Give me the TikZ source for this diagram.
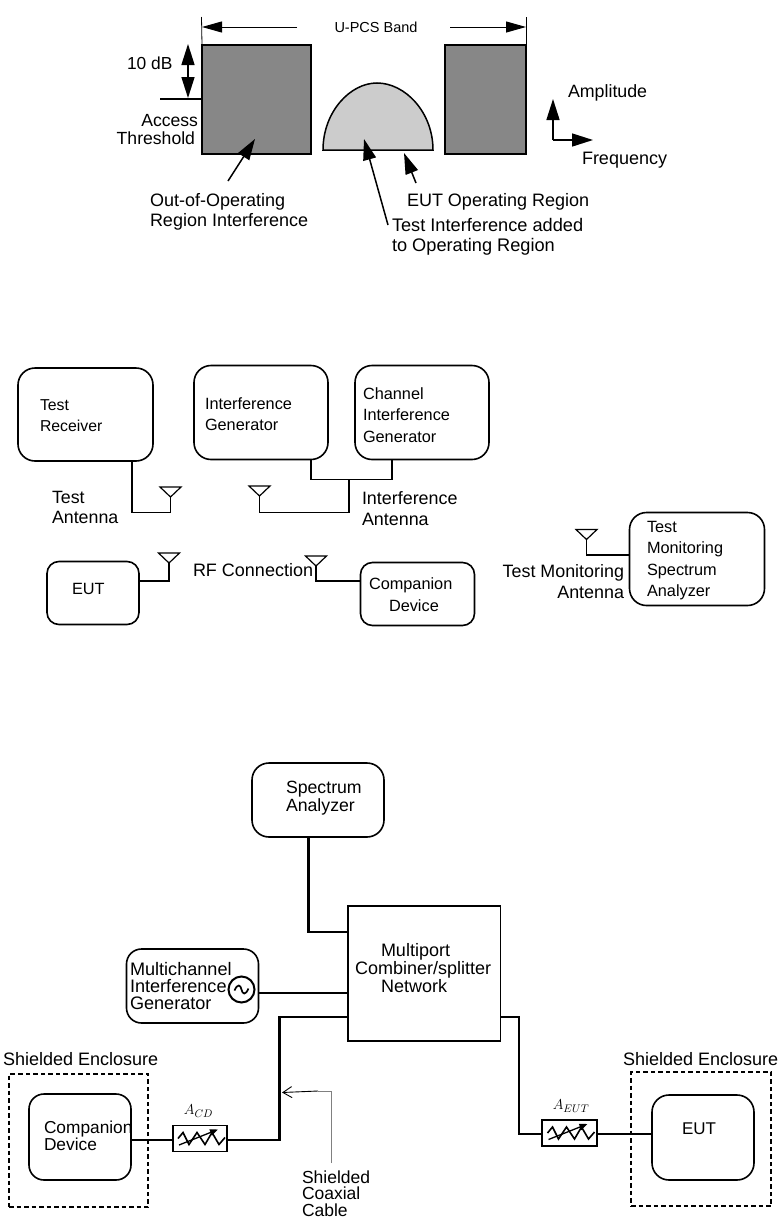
\documentclass[tikz,border=0pt]{standalone}
\usepackage{fontspec}
\setmainfont{Liberation Sans}
\usetikzlibrary{arrows.meta}
\newcommand{\fs}[1]{\fontsize{#1}{#1}\selectfont}
\tikzset{
  every node/.style={outer sep=0pt},
  lbl/.style={inner sep=0pt,anchor=west,align=left},
  lblA/.style={lbl,font=\fontsize{18}{20}\selectfont},
  lblB/.style={lbl,font=\fontsize{16.3}{21.5}\selectfont},
  lblC/.style={lbl,font=\fontsize{17.8}{17}\selectfont},
  rbox/.style={draw,line width=1.6pt,rounded corners=17pt,inner sep=0pt,anchor=north west},
  sbox/.style={rbox,rounded corners=12pt},
  wire/.style={line width=1.5pt},
  thick wire/.style={line width=2.6pt},
  farrow/.style={line width=1.5pt,-{Triangle[length=21pt,width=13pt]}},
  band/.style={line width=1pt,-{Triangle[length=20pt,width=11pt]}},
  encl/.style={draw,line width=1.6pt,dash pattern=on 4.5pt off 3pt,inner sep=0pt,anchor=north west},
  atten/.style={draw,line width=1.7pt,inner sep=0pt,anchor=north west,minimum width=54pt,minimum height=26pt},
}
\newcommand{\antenna}[3]{\coordinate (#1) at (#2,#3);
  \draw[line width=1.2pt] (#1) -- ++(-10.5,-10) -- ++(21,0) -- cycle;}
\newcommand{\resistor}[1]{%
  \draw[line width=1.6pt,shift={(#1.center)}] (-22,0) -- (-17,-6) -- (-11,6) -- (-3,-6) -- (5,6) -- (12,-6) -- (19,6) -- (25,-1);
  \draw[line width=1.3pt,-{Triangle[length=8pt,width=6.5pt]},shift={(#1.center)}] (-21,6.5) -- (18,-9);}
\begin{document}
\begin{tikzpicture}[x=1pt,y=-1pt]
\useasboundingbox (0,0) rectangle (782,1226);
% ---- top spectrum
\node[draw,line width=1.6pt,fill=black!47,inner sep=0pt,anchor=north west,minimum width=109pt,minimum height=109pt] (oobl) at (202,45) {};
\node[draw,line width=1.6pt,fill=black!47,inner sep=0pt,anchor=north west,minimum width=81pt,minimum height=109pt] (oobr) at (445,45) {};
\draw[line width=1.5pt,fill=black!20] (323,150) .. controls (323,112) and (350,83) .. (377,83) .. controls (405,83) and (433,112) .. (433,150) -- cycle;
\coordinate (bl) at (201.5,17); \coordinate (br) at (526,17);
\draw[line width=0.8pt] (bl) -- (oobl.north west);
\draw[line width=0.8pt] (br) -- (526,55);
\node[inner sep=0pt,font=\fs{14.5}] (band) at (376,27) {U-PCS Band};
\draw[band] (297,27) -- (202,27);
\draw[band] (450,27) -- (526,27);
\node[lbl,font=\fs{17.4}] (db) at (127,63) {10 dB};
\coordinate (thr) at (160,99);
\draw[line width=1.5pt] (thr) -- (oobl.west |- thr);
\draw[line width=1.5pt,{Triangle[length=21pt,width=13pt]}-{Triangle[length=21pt,width=13pt]}] (188,44) -- (188,98);
\node[inner sep=0pt,anchor=east,align=right,font=\fontsize{17.6}{18.5}\selectfont] (at) at (198,129.5) {Access\\Threshold\hspace*{3pt}};
\node[lblA] (oop) at (150,212) {Out-of-Operating\\Region Interference};
\node[lblA,anchor=west] (eutop) at (407,201.5) {EUT Operating Region};
\node[lblA,font=\fontsize{18.2}{20}\selectfont] (ti) at (392,236.5) {Test Interference added\\to Operating Region};
\coordinate (a1) at (228,181); \coordinate (a2) at (255,139);
\draw[farrow] (a1) -- (a2);
\coordinate (a3) at (388,225); \coordinate (a4) at (364,139);
\draw[farrow] (a3) -- (a4);
\coordinate (a5) at (416,183); \coordinate (a6) at (404,153);
\draw[farrow] (a5) -- (a6);
\node[lbl,font=\fs{17.8}] (amp) at (568,93) {Amplitude};
\node[lbl,font=\fs{18}] (freq) at (582,160) {Frequency};
\coordinate (org) at (553,140);
\draw[farrow] (org) -- (553,99);
\draw[farrow] (org) -- (593,140);
% ---- middle setup
\node[rbox,minimum width=135pt,minimum height=93pt] (tr) at (18,368) {};
\node[rbox,minimum width=134pt,minimum height=94pt] (ig) at (194,365.5) {};
\node[rbox,minimum width=134pt,minimum height=94pt] (cig) at (355,365.5) {};
\node[sbox,minimum width=92pt,minimum height=63pt] (eut1) at (47,561.5) {};
\node[sbox,minimum width=114pt,minimum height=63pt] (cd1) at (360.5,562.5) {};
\node[rbox,minimum width=135pt,minimum height=93pt] (tm) at (629.5,512.5) {};
\node[lblB,font=\fontsize{15.8}{21}\selectfont] at (40,416) (t1) {Test\\Receiver};
\node[lblB] at (205,414) (t2) {Interference\\Generator};
\node[lblB] at (363,415) (t3) {Channel\\Interference\\Generator};
\node[lblB] at (72,589) (t4) {EUT};
\node[lblB] at (369,594.5) (t5) {Companion\\\hspace*{20pt}Device};
\node[lblB] at (647,560.5) (t6) {Test\\Monitoring\\Spectrum\\Analyzer};
\node[lblB,font=\fontsize{17.8}{20.5}\selectfont] at (52,507.5) (t7) {Test\\Antenna};
\node[lblB,font=\fontsize{17.9}{20.5}\selectfont] at (362,508.5) (t8) {Interference\\Antenna};
\node[lbl,font=\fs{18}] at (193,570) (t9) {RF Connection};
\node[inner sep=0pt,anchor=east,align=right,font=\fontsize{17.9}{21}\selectfont] at (624,582) (t10) {Test Monitoring\\Antenna};
\antenna{ant1}{170.5}{497}
\antenna{ant2}{259.5}{496}
\antenna{ant3}{169}{563}
\antenna{ant4}{316}{566}
\antenna{ant5}{586.5}{539.5}
\coordinate (r1) at (132,461); \coordinate (j1) at (349,479.5);
\draw[wire] (r1) -- (132,512.5) -- (ant1 |- 0,512.5) -- (ant1);
\coordinate (r2) at (311,459.5); \coordinate (r3) at (392,459.5);
\draw[wire] (r2) -- (311,479.5) -- (392,479.5) -- (r3);
\draw[wire] (j1) -- (349,512.5) -- (ant2 |- 0,512.5) -- (ant2);
\draw[wire] (eut1.east |- 0,581) -- (ant3 |- 0,581) -- (ant3);
\draw[wire] (cd1.west |- 0,581) -- (ant4 |- 0,581) -- (ant4);
\draw[wire] (tm.west |- 0,555) -- (ant5 |- 0,555) -- (ant5);
% ---- bottom setup
\node[rbox,minimum width=132pt,minimum height=74pt,rounded corners=17pt] (sa) at (252,763) {};
\node[draw,line width=1.4pt,inner sep=0pt,anchor=north west,minimum width=152.5pt,minimum height=135pt] (net) at (348,906) {};
\node[rbox,minimum width=132pt,minimum height=74pt,rounded corners=15pt] (mig) at (126.5,949) {};
\node[draw,line width=2pt,circle,inner sep=0pt,minimum size=26pt] (osc) at (241.5,989.5) {};
\draw[line width=1.7pt,shift={(osc.center)}] (-7,1) .. controls (-4,-6) and (-1,-5) .. (0,0) .. controls (1,5) and (4,6) .. (7,-1);
\node[lblC,font=\fontsize{17.7}{17.7}\selectfont] at (286,798) (s1) {Spectrum\\Analyzer};
\node[lblC,font=\fontsize{18}{16.3}\selectfont] at (355,968) (s2) {\hspace*{26pt}Multiport\\Combiner/splitter\\\hspace*{26pt}Network};
\node[lblC,font=\fontsize{18.1}{16.8}\selectfont] at (130,986) (s3) {Multichannel\\Interference\\Generator};
\node[encl,minimum width=139pt,minimum height=133pt] (e1) at (9,1074) {};
\node[encl,minimum width=140pt,minimum height=134pt] (e2) at (631,1072) {};
\node[rbox,minimum width=102pt,minimum height=86pt,rounded corners=15pt] (cd2) at (29,1094) {};
\node[rbox,minimum width=102pt,minimum height=85pt,rounded corners=17pt] (eut2) at (652,1095) {};
\node[atten] (acd) at (173,1125.5) {};
\node[atten,minimum width=55pt] (aeut) at (542,1120) {};
\resistor{acd}
\resistor{aeut}
\node[lbl,font=\fs{18}] at (3,1059) (s4) {Shielded Enclosure};
\node[lbl,font=\fs{18}] at (623,1059) (s5) {Shielded Enclosure};
\node[lblC,font=\fontsize{17.3}{17}\selectfont] at (44,1136) (s6) {Companion\\Device};
\node[lbl,font=\fs{17}] at (682,1129) (s7) {EUT};
\node[lblC,font=\fontsize{17.5}{16.5}\selectfont] at (302,1193.5) (s8) {Shielded\\Coaxial\\Cable};
\node[inner sep=0pt,font=\fs{15}] at (198.5,1111) (s9) {$A_{CD}$};
\node[inner sep=0pt,font=\fs{15}] at (571,1106) (s10) {$A_{EUT}$};
\draw[thick wire] (sa.south -| 308.5,0) -- (308.5,932) -- (net.west |- 0,932);
\draw[wire,line width=1.8pt] (mig.east |- 0,993) -- (net.west |- 0,993);
\draw[thick wire] (net.west |- 0,1017) -- (279.5,1017) -- (279.5,1140) -- (acd.east |- 0,1140);
\draw[thick wire] (acd.west |- 0,1140) -- (cd2.east |- 0,1140);
\draw[thick wire] (net.east |- 0,1017) -- (519,1017) -- (519,1134) -- (aeut.west |- 0,1134);
\draw[thick wire] (aeut.east |- 0,1134) -- (eut2.west |- 0,1134);
\coordinate (p1) at (331,1163); \coordinate (p2) at (282,1092.5);
\draw[black!50,line width=0.9pt] (p1) -- (331,1091) -- (318,1091);
\draw[line width=0.9pt,-{Straight Barb[length=9pt,width=11pt]}] (318,1091) -- (p2);
\end{tikzpicture}
\end{document}
